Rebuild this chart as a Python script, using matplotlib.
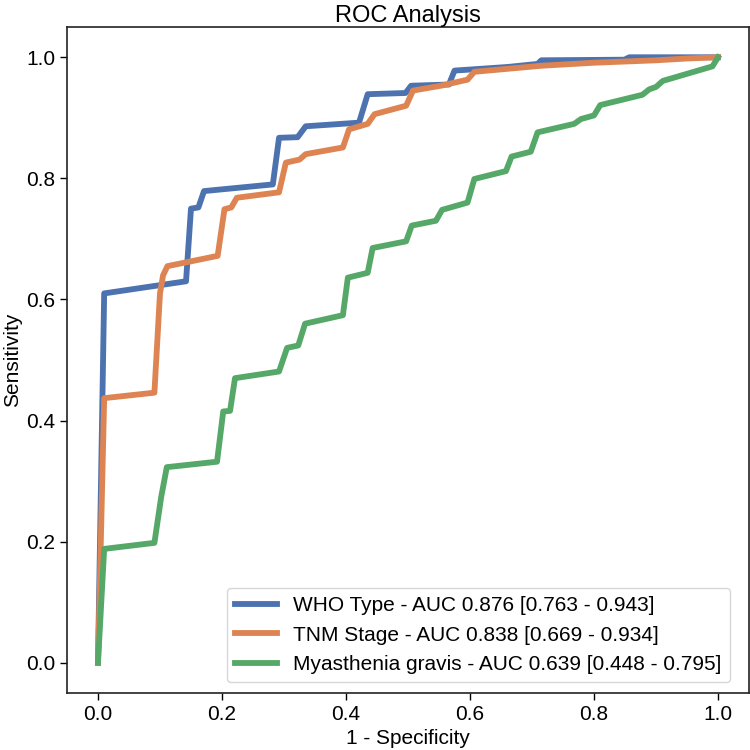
import matplotlib
matplotlib.use("Agg")
import matplotlib.pyplot as plt

plt.rcParams['font.family'] = ['Liberation Sans', 'DejaVu Sans']

# WHO Type
who_fpr = [0.0, 0.01, 0.142, 0.150, 0.162, 0.171, 0.282, 0.292, 0.322, 0.335, 0.421, 0.435,
           0.496, 0.505, 0.566, 0.575, 0.661, 0.709, 0.715, 0.849, 0.857, 1.0]
who_tpr = [0.0, 0.61, 0.630, 0.750, 0.752, 0.779, 0.790, 0.867, 0.868, 0.886, 0.892, 0.939,
           0.941, 0.953, 0.955, 0.978, 0.984, 0.989, 0.995, 0.996, 1.0, 1.0]

# TNM Stage
tnm_fpr = [0.0, 0.01, 0.091, 0.100, 0.105, 0.112, 0.193, 0.204, 0.215, 0.224, 0.292, 0.303,
           0.325, 0.335, 0.395, 0.405, 0.435, 0.446, 0.497, 0.508, 0.553, 0.596, 0.607,
           0.661, 0.715, 0.80, 0.90, 0.95, 1.0]
tnm_tpr = [0.0, 0.437, 0.446, 0.610, 0.640, 0.655, 0.672, 0.749, 0.752, 0.768, 0.777, 0.826,
           0.831, 0.840, 0.851, 0.881, 0.890, 0.906, 0.920, 0.945, 0.953, 0.963, 0.976,
           0.981, 0.986, 0.991, 0.995, 0.998, 1.0]

# Myasthenia gravis
mg_fpr = [0.0, 0.01, 0.091, 0.102, 0.111, 0.192, 0.202, 0.213, 0.221, 0.292, 0.305, 0.323,
          0.334, 0.395, 0.403, 0.435, 0.443, 0.497, 0.506, 0.545, 0.555, 0.596, 0.607,
          0.658, 0.667, 0.698, 0.709, 0.768, 0.779, 0.800, 0.810, 0.878, 0.889, 0.900,
          0.911, 0.991, 1.0]
mg_tpr = [0.0, 0.188, 0.198, 0.274, 0.323, 0.332, 0.415, 0.416, 0.470, 0.481, 0.520, 0.524,
          0.560, 0.574, 0.636, 0.644, 0.685, 0.696, 0.722, 0.730, 0.748, 0.760, 0.799,
          0.812, 0.836, 0.844, 0.876, 0.890, 0.898, 0.904, 0.921, 0.938, 0.947, 0.951,
          0.961, 0.985, 1.0]

labels = ["WHO Type - AUC 0.876 [0.763 - 0.943]",
          "TNM Stage - AUC 0.838 [0.669 - 0.934]",
          "Myasthenia gravis - AUC 0.639 [0.448 - 0.795]"]
colors = ["#4C72B0", "#DD8452", "#55A868"]

fig = plt.figure(figsize=(7.5, 7.5), dpi=100)
ax = fig.add_axes([0.0893, 0.076, 0.9094, 0.888])
for fx, ty, lab, c in zip([who_fpr, tnm_fpr, mg_fpr], [who_tpr, tnm_tpr, mg_tpr], labels, colors):
    ax.plot(fx, ty, color=c, lw=4.2, label=lab)

ax.set_xlim(-0.05, 1.05)
ax.set_ylim(-0.05, 1.05)
ax.tick_params(labelsize=15, length=5, width=1)
ax.set_xlabel("1 - Specificity", fontsize=15, labelpad=4)
ax.set_ylabel("Sensitivity", fontsize=15, labelpad=3)
ax.set_title("ROC Analysis", fontsize=17, pad=3)
for s in ax.spines.values():
    s.set_linewidth(1.2)
    s.set_color("#222222")
ax.legend(loc="lower right", bbox_to_anchor=(0.972, 0.016), borderaxespad=0,
          fontsize=15, handlelength=2.0)

plt.savefig("out.png", dpi=100)
